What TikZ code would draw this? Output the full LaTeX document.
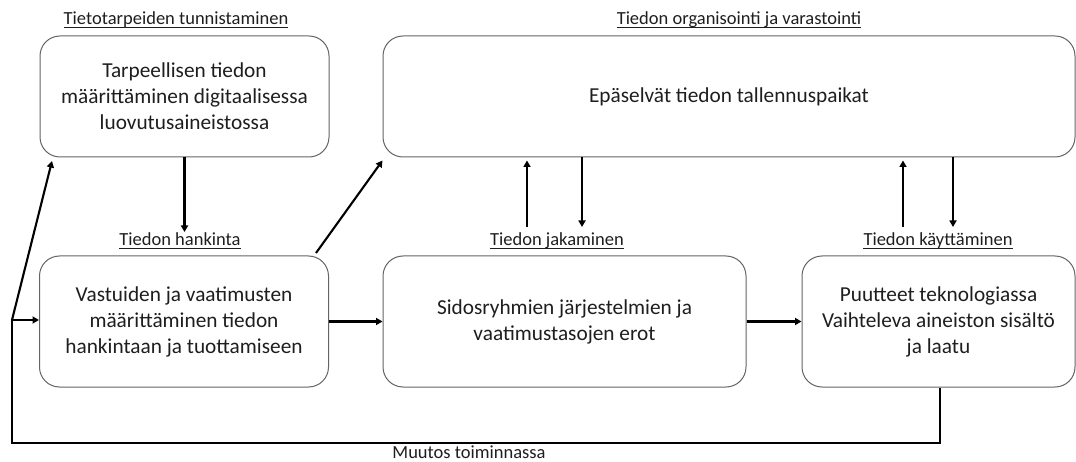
\documentclass[tikz,border=0pt]{standalone}
\usepackage{fontspec}
\setmainfont{Carlito}
\usetikzlibrary{arrows.meta}
\definecolor{boxline}{RGB}{100,100,100}
\definecolor{txt}{RGB}{30,30,30}
\begin{document}
\begin{tikzpicture}[x=1pt,y=-1pt,
  box/.style={draw=boxline, line width=1pt, rounded corners=20pt, align=center,
    font=\fontsize{21.3}{26}\selectfont, text=txt, inner sep=0pt},
  lbl/.style={font=\fontsize{18.5}{22}\selectfont, text=txt, inner sep=0pt, anchor=base},
  uline/.style={draw=txt, line width=0.9pt},
  arr/.style={draw=black, line width=2.1pt, -{Triangle[length=6.5pt,width=7pt]}},
  fb/.style={draw=black, line width=2.3pt}]
\useasboundingbox (0,0) rectangle (1076,462);
% boxes
\node[box, minimum width=289pt, minimum height=121pt] (b1) at (184.5,96.5)
  {Tarpeellisen tiedon\\määrittäminen digitaalisessa\\luovutusaineistossa};
\node[box, minimum width=692pt, minimum height=121pt] (b2) at (729,96.5)
  {Epäselvät tiedon tallennuspaikat};
\node[box, minimum width=289pt, minimum height=131pt] (b3) at (184,321.5)
  {Vastuiden ja vaatimusten\\määrittäminen tiedon\\hankintaan ja tuottamiseen};
\node[box, minimum width=363pt, minimum height=131pt] (b4) at (564.5,321.5)
  {Sidosryhmien järjestelmien ja\\vaatimustasojen erot};
\node[box, minimum width=273pt, minimum height=131pt] (b5) at (938.5,321.5)
  {Puutteet teknologiassa\\Vaihteleva aineiston sisältö\\ja laatu};
% labels
\node[lbl] (l1) at (176,25) {Tietotarpeiden tunnistaminen};
\node[lbl] (l2) at (739,25) {Tiedon organisointi ja varastointi};
\node[lbl] (l3) at (180,246) {Tiedon hankinta};
\node[lbl] (l4) at (557,246) {Tiedon jakaminen};
\node[lbl] (l5) at (938,246) {Tiedon käyttäminen};
\node[lbl] (l6) at (469,458) {Muutos toiminnassa};
\foreach \n in {l1,l2,l3,l4,l5}
  \draw[uline] ([yshift=-2pt]\n.base west) -- ([yshift=-2pt]\n.base east);
% coordinates
\coordinate (h1) at (184.5,232);
\coordinate (s1) at (316,253);
\coordinate (c0) at (12,320);
\coordinate (t1) at (52,161);
\coordinate (f2) at (940,443);
\coordinate (u1) at (527,227);
\coordinate (d1) at (582,227);
\coordinate (u2) at (903,227);
\coordinate (d2) at (953,227);
% connectors
\draw[arr] (b1.south) -- (h1);
\draw[arr] (s1) -- ([yshift=-3pt]b2.south west);
\draw[arr] (u1) -- ([yshift=-3pt]u1 |- b2.south);
\draw[arr] (b2.south -| d1) -- (d1);
\draw[arr] (u2) -- ([yshift=-3pt]u2 |- b2.south);
\draw[arr] (b2.south -| d2) -- (d2);
\draw[arr] (b3.east) -- (b4.west);
\draw[arr] (b4.east) -- (b5.west);
\draw[fb] (b5.south -| f2) -- (f2) -| (c0);
\draw[arr] (c0) -- (c0 -| b3.west);
\draw[arr] (c0) -- (t1);
\end{tikzpicture}
\end{document}
